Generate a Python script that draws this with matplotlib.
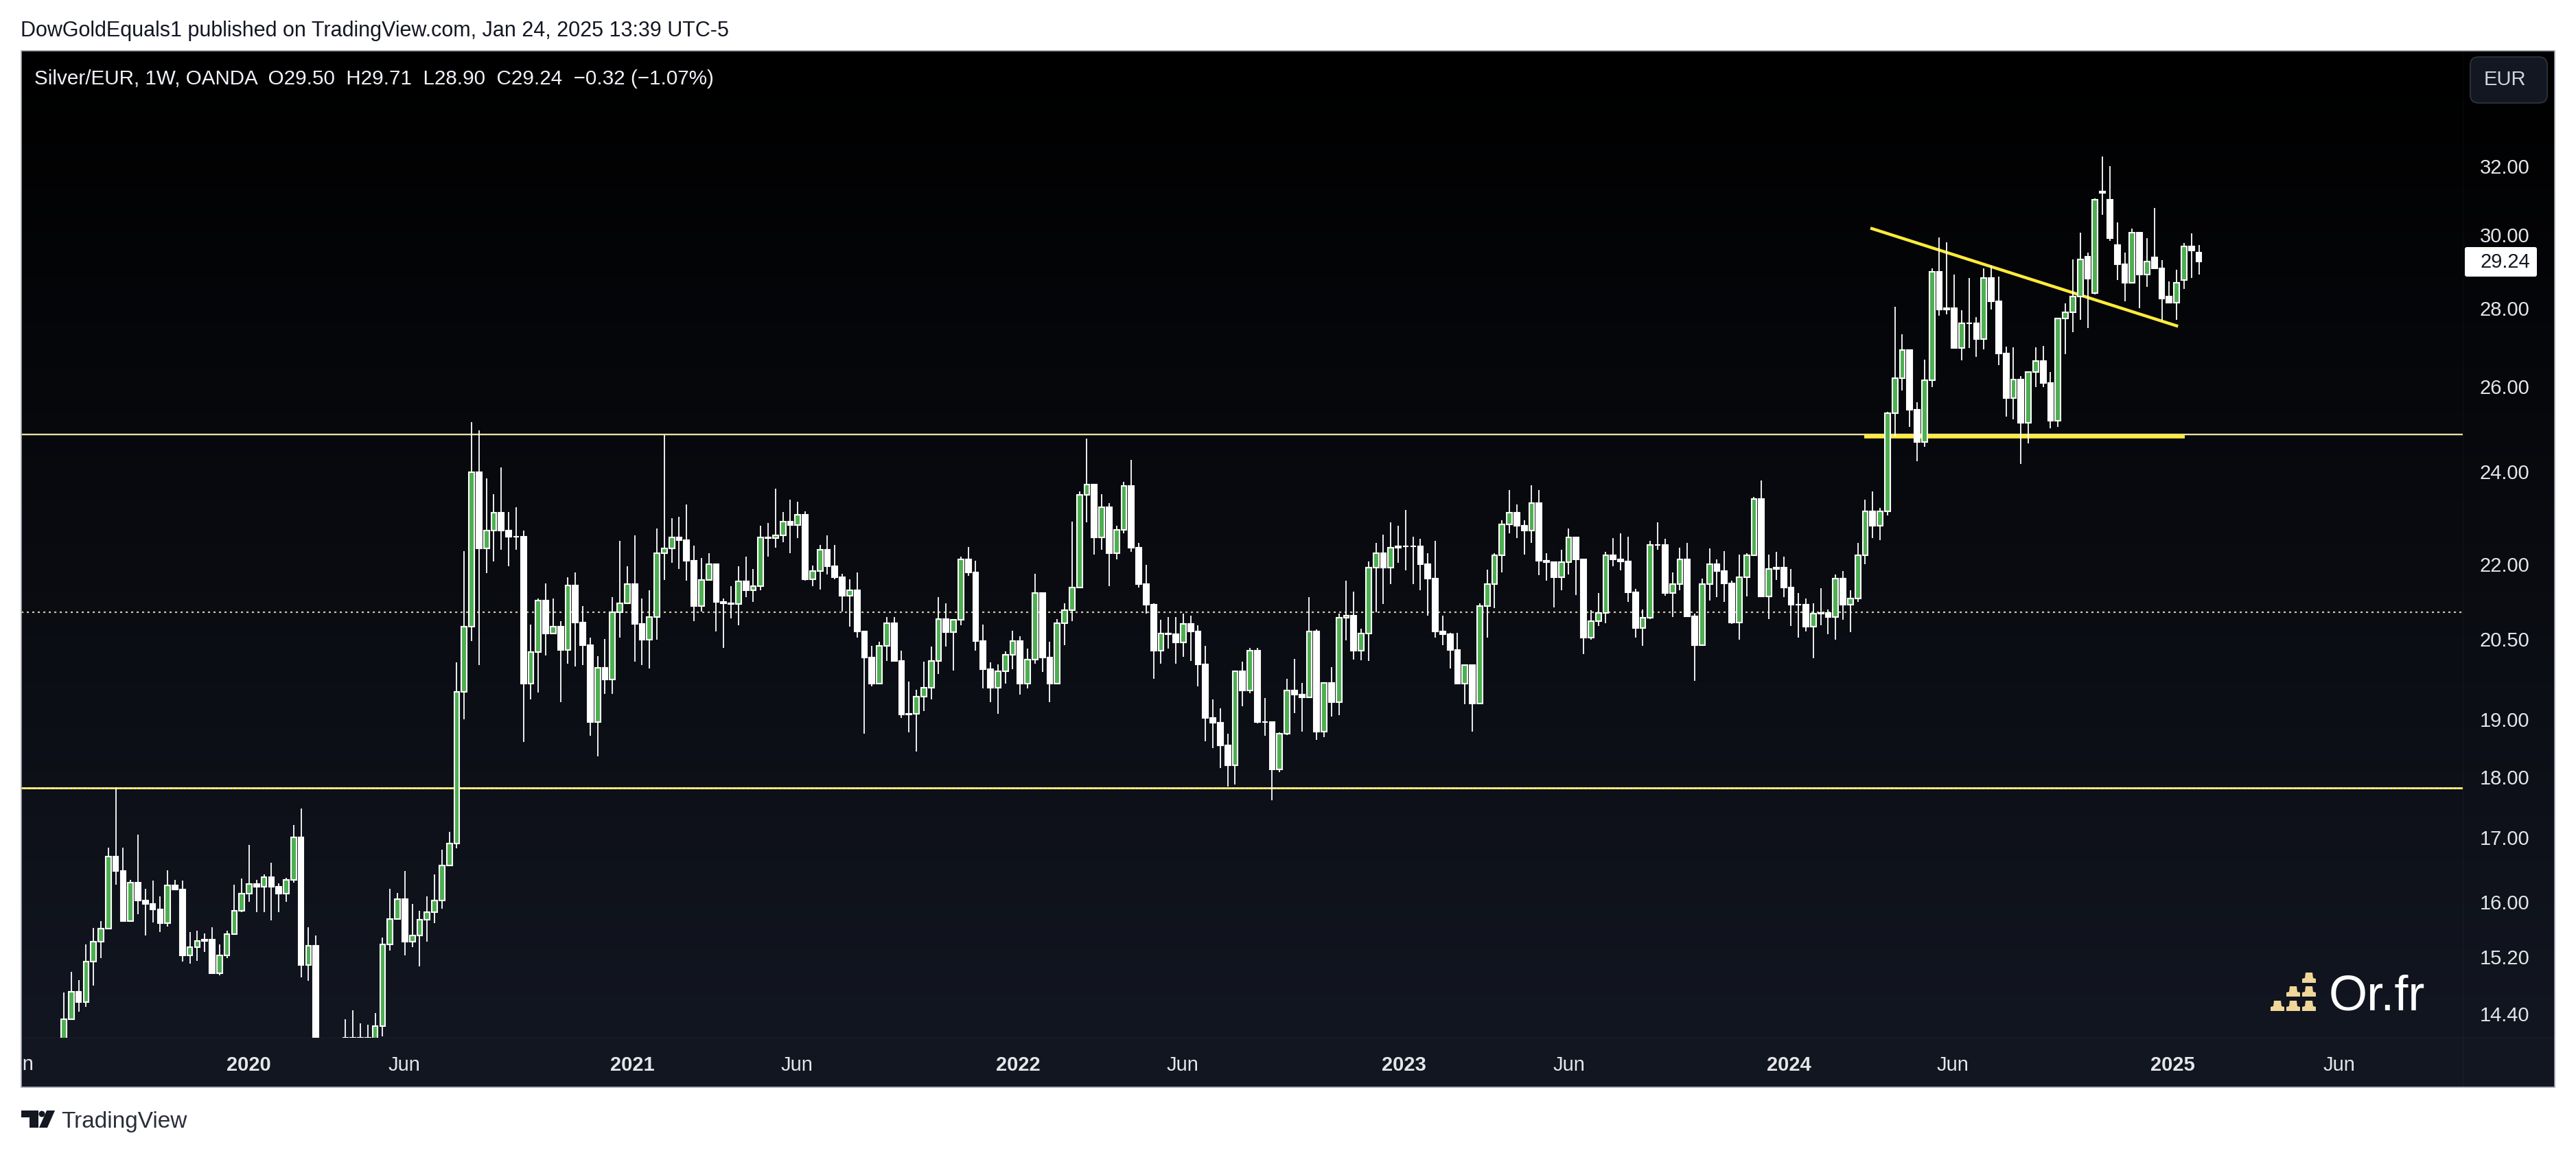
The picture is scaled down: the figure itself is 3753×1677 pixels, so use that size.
#! /usr/bin/python
# Silver/EUR weekly candles, TradingView dark layout

import numpy as np
import matplotlib
matplotlib.use("Agg")
import matplotlib.pyplot as plt
from matplotlib.colors import LinearSegmentedColormap
from matplotlib.patches import Rectangle, FancyBboxPatch, Polygon, Circle
from matplotlib.transforms import Bbox

plt.rcParams['font.family'] = ['Liberation Sans', 'DejaVu Sans']

W, H = 3753, 1677

# weekly candles, 289 bars (open = previous close unless in gap_opens)
first_open = 13.95
closes = [
    14.33,14.70,14.56,15.13,15.41,15.60,16.70,16.47,15.72,16.29,
    16.02,15.97,15.89,15.68,16.25,16.19,15.22,15.33,15.42,15.44,
    14.96,15.22,15.52,15.87,16.13,16.27,16.23,16.38,16.23,16.13,
    16.34,17.00,15.08,15.35,13.20,12.60,12.90,13.70,14.08,13.80,
    14.08,13.85,14.24,15.37,15.75,16.04,15.41,15.50,15.74,15.85,
    16.02,16.56,16.91,19.50,20.74,23.99,22.32,22.70,23.08,22.70,
    22.57,22.57,19.66,20.25,21.25,20.60,20.74,20.29,21.56,20.82,
    20.38,18.96,19.95,19.73,21.02,21.20,21.59,20.79,20.48,20.93,
    22.22,22.32,22.55,22.50,22.07,21.14,21.67,22.00,21.23,21.20,
    21.18,21.64,21.46,21.55,22.55,22.54,22.60,22.89,22.82,23.04,
    21.69,21.85,22.30,21.95,21.72,21.35,21.46,20.65,20.14,19.66,
    20.37,20.80,20.08,19.09,19.10,19.42,19.58,20.08,20.88,20.63,
    20.87,22.10,21.82,20.46,19.92,19.58,19.89,20.20,20.46,19.66,
    20.11,21.41,20.14,19.66,20.80,21.06,21.52,23.48,23.70,22.55,
    23.20,22.22,22.72,23.67,22.34,21.58,21.17,20.27,20.60,20.59,
    20.43,20.79,20.64,20.01,19.03,18.94,18.54,18.20,19.89,19.53,
    20.28,18.96,18.96,18.13,18.75,19.53,19.45,19.40,20.64,18.79,
    19.67,19.31,20.91,20.96,20.27,20.60,21.93,22.22,21.92,22.34,
    22.37,22.37,22.37,22.00,21.70,20.65,20.59,20.29,19.66,20.00,
    19.29,21.15,21.59,22.18,22.83,23.08,22.80,22.70,23.29,22.07,
    22.04,21.72,22.04,22.56,22.09,20.53,20.84,21.01,22.18,22.09,
    22.05,21.42,20.71,20.91,22.40,22.40,21.40,21.59,22.10,20.94,
    20.38,21.59,22.00,21.85,21.60,20.82,21.73,22.18,23.39,21.34,
    21.89,21.93,21.52,21.17,21.17,20.74,20.99,21.01,20.93,21.70,
    21.17,21.29,22.18,23.11,22.80,23.12,25.36,26.20,26.91,25.43,
    24.67,26.15,28.97,27.95,27.99,26.97,27.59,27.60,27.19,28.80,
    28.18,26.83,25.72,26.17,25.13,26.36,26.63,26.08,25.18,27.72,
    27.89,28.30,29.31,28.78,31.00,31.20,29.90,29.17,28.66,30.06,
    28.90,29.25,29.07,28.25,28.13,28.67,29.67,29.56,29.24]
highs = [
    14.69,14.98,14.87,15.37,15.61,15.72,16.84,17.83,16.84,16.34,
    17.05,16.20,16.33,16.09,16.49,16.34,16.33,15.55,15.57,15.53,
    15.62,15.37,15.57,16.26,16.36,16.89,16.34,16.42,16.60,16.28,
    16.37,17.20,17.47,15.62,15.50,13.60,13.50,13.95,14.33,14.45,
    14.27,14.25,14.41,15.47,16.20,16.14,16.47,15.97,15.87,16.09,
    16.42,16.81,17.09,20.05,22.27,25.15,24.95,23.84,23.50,24.10,
    23.10,23.20,22.70,20.78,21.29,21.60,21.30,20.84,21.73,21.83,
    21.14,20.52,20.17,20.50,21.32,22.49,21.95,22.60,21.30,21.46,
    22.74,24.84,22.97,23.00,23.27,22.38,22.12,22.23,22.00,21.30,
    21.54,21.95,22.15,21.89,22.80,22.87,23.62,23.10,23.37,23.32,
    23.12,21.97,22.40,22.60,22.40,21.80,21.69,21.83,20.65,20.37,
    20.45,20.92,20.92,20.27,19.69,19.54,20.06,20.35,21.32,21.20,
    20.87,22.15,22.35,22.06,20.78,20.05,20.01,20.26,20.66,20.55,
    20.31,21.80,21.41,20.45,20.89,21.20,22.90,23.55,24.76,23.70,
    23.50,23.30,22.80,23.77,24.27,22.44,21.98,21.20,20.87,20.92,
    20.92,21.00,20.95,20.77,20.37,19.36,19.20,18.75,19.89,20.07,
    20.33,20.33,19.39,18.96,18.77,19.75,20.12,19.67,21.32,20.69,
    19.67,19.96,21.00,21.65,21.43,20.70,22.05,22.44,22.62,22.88,
    22.80,23.15,22.57,22.53,22.23,22.49,20.96,20.62,20.62,20.02,
    20.00,21.20,21.88,22.22,22.93,23.59,23.27,22.93,23.69,23.59,
    22.22,22.04,22.30,22.74,22.56,22.10,21.06,21.41,22.25,22.54,
    22.65,22.57,21.49,21.08,22.49,22.88,22.52,21.83,22.34,22.44,
    20.99,21.70,22.32,22.10,22.27,21.65,22.20,22.22,23.43,23.80,
    22.20,22.25,22.15,21.90,21.41,21.30,21.20,21.50,21.07,21.78,
    21.85,21.46,22.44,23.37,23.55,23.19,25.39,28.02,27.31,26.92,
    25.62,26.67,29.06,29.91,29.78,28.90,27.94,28.79,27.75,29.06,
    29.14,28.84,27.00,26.98,26.26,26.36,26.98,27.01,26.35,27.72,
    28.12,29.31,30.05,29.49,31.05,32.29,32.00,30.34,29.50,30.18,
    30.05,29.89,30.76,29.28,28.70,29.03,29.76,30.03,29.71]
lows = [
    13.70,14.33,14.43,14.50,14.79,15.18,15.60,16.26,15.72,15.72,
    15.82,15.50,15.70,15.55,15.63,16.19,15.13,15.10,15.14,15.26,
    14.96,14.93,15.18,15.52,15.85,16.00,15.85,15.85,15.73,15.85,
    16.00,16.30,14.90,14.86,12.30,11.80,12.10,12.70,13.50,13.50,
    13.60,13.50,13.70,14.10,15.28,15.75,15.22,15.33,15.06,15.41,
    15.68,15.90,16.56,16.83,19.00,20.46,20.00,21.81,22.05,22.30,
    21.95,22.30,18.60,19.36,19.49,20.18,20.60,19.32,20.03,19.98,
    20.00,18.71,18.35,19.47,19.47,20.52,21.20,20.06,20.00,19.93,
    20.48,21.67,22.02,21.90,21.65,20.85,21.04,21.65,20.64,20.32,
    20.90,20.76,21.32,21.23,21.46,22.15,22.34,22.45,22.23,22.54,
    21.66,21.54,21.47,21.78,21.69,21.04,20.74,20.53,18.75,19.60,
    19.66,20.08,20.08,19.03,18.77,18.44,19.15,19.36,19.83,20.35,
    19.90,20.76,21.76,20.28,19.56,19.32,19.10,19.66,19.92,19.45,
    19.57,20.03,19.87,19.32,19.66,20.38,20.85,21.52,22.88,22.20,
    22.30,21.54,22.10,22.65,22.25,21.52,21.00,19.75,20.03,20.31,
    20.03,20.16,20.08,19.60,18.62,18.50,18.15,17.84,17.87,19.24,
    19.48,18.93,18.71,17.61,18.08,18.73,19.12,18.78,19.40,18.64,
    18.69,19.06,19.08,20.47,20.11,20.09,20.08,21.02,21.18,21.58,
    22.02,21.87,21.58,21.46,20.96,20.53,20.38,19.93,19.66,19.28,
    18.78,19.29,20.53,21.10,21.83,22.65,22.54,22.20,22.44,21.77,
    21.66,21.12,21.46,21.78,21.37,20.21,20.48,20.75,20.80,21.95,
    21.87,21.23,20.53,20.37,20.88,22.30,21.35,20.93,21.46,20.93,
    19.70,20.38,21.25,21.32,21.23,20.79,20.48,21.33,22.18,21.32,
    20.88,21.67,21.32,20.75,20.53,20.65,20.13,20.76,20.59,20.48,
    20.87,20.63,21.23,21.99,22.54,22.50,23.03,24.80,25.90,25.03,
    24.23,24.56,25.99,27.80,27.83,26.97,26.65,26.97,26.74,26.92,
    27.95,26.53,25.28,25.21,24.17,24.65,25.98,25.98,24.99,25.03,
    26.80,27.36,27.69,27.48,28.35,30.56,29.83,28.74,28.18,28.73,
    28.00,28.56,29.07,27.66,28.13,27.69,28.50,28.80,28.90]
gap_opens = {273: 29.38, 274: 28.40, 275: 31.25, 276: 31.00, 277: 29.70,
             282: 29.37, 284: 28.30, 286: 28.74, 287: 29.66, 288: 29.50}

# drawn levels and trend line
level_top = 24.85
level_mid = 21.02
level_low = 17.82
shelf_level = 24.80
shelf_bars = [242.9, 286.1]
trend_bars = [243.9, 285.0]
trend_prices = [30.17, 27.53]

price_ticks = [32, 30, 28, 26, 24, 22, 20.5, 19, 18, 17, 16, 15.2, 14.4]
time_ticks = [24.9, 45.9, 76.7, 98.9, 128.7, 150.9, 180.8, 203.0, 232.7, 254.8, 284.5, 306.9]
time_labels = ['2020', 'Jun', '2021', 'Jun', '2022', 'Jun', '2023', 'Jun', '2024', 'Jun', '2025', 'Jun']
last_price = 29.24

header_text = "DowGoldEquals1 published on TradingView.com, Jan 24, 2025 13:39 UTC-5"
legend_text = "Silver/EUR, 1W, OANDA  O29.50  H29.71  L28.90  C29.24  \u22120.32 (\u22121.07%)"

fig = plt.figure(figsize=(W/100, H/100), dpi=100, facecolor='white')

def box(x0, y0, x1, y1):
    return [x0/W, 1-y1/H, (x1-x0)/W, (y1-y0)/H]

# background gradient for the whole panel
bg = fig.add_axes(box(31, 74, 3722, 1584))
bg.axis('off')
cmap = LinearSegmentedColormap.from_list('panel', ['#000000', '#131722'])
bg.imshow(np.linspace(0, 1, 256).reshape(-1, 1), cmap=cmap, aspect='auto')

# main pane
ax = fig.add_axes(box(31, 74, 3588, 1512))
ax.patch.set_alpha(0)
ax.set_yscale('log')
ax.set_xlim(-5.74, 323.6)
ax.set_ylim(14.08, 35.67)
for s in ax.spines.values():
    s.set_visible(False)

ax.axhline(level_top, color='#e6dfa6', lw=1.7, zorder=1)
ax.axhline(level_mid, color='#cfc89a', lw=1.6, ls=(0, (1.4, 2.2)), zorder=1)
ax.axhline(level_low, color='#fff6c0', lw=2.0, zorder=1)
ax.axhline(level_low, color='#ffe93b', lw=2.0, ls=(0, (1.2, 1.2)), zorder=1)
ax.plot(shelf_bars, [shelf_level, shelf_level], color='#ffeb3b', lw=4, solid_capstyle='butt', zorder=2)
ax.plot(trend_bars, trend_prices, color='#ffeb3b', lw=3.2, zorder=2)

# candles
c = np.array(closes)
h = np.array(highs)
l = np.array(lows)
o = np.concatenate([[first_open], c[:-1]])
for i in gap_opens:
    o[i] = gap_opens[i]
bars = np.arange(len(c))
up = c >= o
ax.vlines(bars, np.minimum(l, np.minimum(o, c)), np.maximum(h, np.maximum(o, c)),
          color='white', lw=1.3, zorder=3)
ax.bar(bars, np.abs(c-o), bottom=np.minimum(o, c), width=0.72,
       color=np.where(up, '#4caf50', 'white'), edgecolor='white', linewidth=1.5, zorder=4)

# axes text
ax.yaxis.tick_right()
ax.set_yticks(price_ticks)
ax.set_yticklabels(['%.2f' % p for p in price_ticks], color='#e4e6ea', fontsize=21, ha='right')
ax.minorticks_off()
ax.tick_params(axis='y', length=0, pad=70)
ax.set_xticks(time_ticks)
ax.set_xticklabels(time_labels, color='#e4e6ea', fontsize=21)
ax.tick_params(axis='x', length=0, pad=19)
for lab in ax.get_xticklabels():
    if lab.get_text() != 'Jun':
        lab.set_fontweight('bold')

# overlay in picture pixels for the page furniture
ov = fig.add_axes([0, 0, 1, 1])
ov.set_xlim(0, W)
ov.set_ylim(H, 0)
ov.axis('off')

ov.plot([3588, 3588], [74, 1584], color='white', alpha=0.03, lw=1)
ov.plot([31, 3722], [1512, 1512], color='white', alpha=0.03, lw=1)
ov.add_patch(Rectangle((31, 74), 3691, 1510, fill=False, edgecolor='#a5a8b0', lw=1.2))

ov.text(30, 45, header_text, color='#131722', fontsize=22, va='center', ha='left')
ov.text(50, 115, legend_text, color='#f0f3fa', fontsize=21.3, va='center', ha='left')

# clipped first month label
t = ov.text(26, 1551, 'Jun', color='#e4e6ea', fontsize=21, va='center', ha='center')
t.set_clip_on(True)
t.set_clip_box(Bbox([[31, 0], [W, H]]))

# currency button and last price tag
ov.add_patch(FancyBboxPatch((3607, 91), 96, 51, boxstyle='round,pad=8,rounding_size=12',
                            facecolor='#131722', edgecolor='#2a2e39', lw=1.5))
ov.text(3649, 116, 'EUR', color='#d1d4dc', fontsize=21, va='center', ha='center')
ov.add_patch(FancyBboxPatch((3593, 362), 101, 39, boxstyle='round,pad=2,rounding_size=3',
                            facecolor='white', edgecolor='none'))
ov.text(3686, 382, '%.2f' % last_price, color='#131722', fontsize=21, va='center', ha='right')

# Or.fr logo
gold = '#f0d69a'
for bx, by in [(3308, 1473), (3331, 1473), (3354, 1473), (3331, 1452), (3354, 1452), (3354, 1432)]:
    ov.add_patch(Polygon([(bx, by), (bx+20, by), (bx+20, by-6), (bx+16, by-7), (bx+15, by-15),
                          (bx+5, by-15), (bx+4, by-7), (bx, by-6)], closed=True,
                         facecolor=gold, edgecolor='none'))
ov.text(3393, 1471, 'Or.fr', color='white', fontsize=52, va='baseline', ha='left')

# TradingView footer
dark = '#131722'
ov.add_patch(Rectangle((31, 1618), 25, 10, facecolor=dark, edgecolor='none'))
ov.add_patch(Rectangle((43, 1618), 13, 25, facecolor=dark, edgecolor='none'))
ov.add_patch(Circle((61, 1623), 4.5, facecolor=dark, edgecolor='none'))
ov.add_patch(Polygon([(68, 1618), (80, 1618), (69, 1643), (57, 1643)], closed=True, facecolor=dark, edgecolor='none'))
ov.text(89, 1634, 'TradingView', color='#2a2e39', fontsize=24, va='center', ha='left')

fig.savefig('out.png', dpi=100, facecolor='white')
